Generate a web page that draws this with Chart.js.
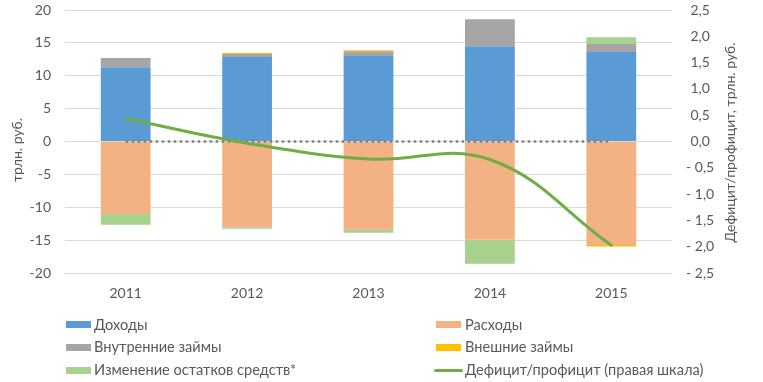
<!DOCTYPE html>
<html>
<head>
<meta charset="utf-8">
<script src="https://cdn.jsdelivr.net/npm/chart.js@4/dist/chart.umd.min.js"></script>
<style>
  html, body { margin: 0; padding: 0; background: #fff; }
  #wrap { position: relative; width: 763px; height: 382px; overflow: hidden; font-family: Lato, "Noto Sans", sans-serif; }
  #c { position: absolute; left: 0; top: 0; }
  .lg { position: absolute; font-size: 14.6px; color: #595959; white-space: nowrap; line-height: 16px; }
  .sw { position: absolute; }
</style>
</head>
<body>
<div id="wrap">
  <canvas id="c" width="763" height="382"></canvas>
  <div id="legend"></div>
</div>
<script>
// ---- data ----
const categories = ['2011', '2012', '2013', '2014', '2015'];
const revenues      = [11.3, 12.85, 13.0, 14.5, 13.6];     // Доходы
const expenditures  = [-11.0, -13.0, -13.4, -14.9, -15.7]; // Расходы
const domesticLoans = [1.4, 0.45, 0.75, 4.1, 1.25];        // Внутренние займы
const externalLoans = [0, 0.15, 0.15, 0, -0.25];            // Внешние займы
const balanceChange = [-1.65, -0.25, -0.45, -3.65, 1.0];   // Изменение остатков средств*
const deficit       = [0.44, -0.03, -0.33, -0.34, -1.97];  // Дефицит/профицит
const zeroLine      = [0, 0, 0, 0, 0];
const leftTicks  = [-20, -15, -10, -5, 0, 5, 10, 15, 20];
const rightTicks = [-2.5, -2.0, -1.5, -1.0, -0.5, 0, 0.5, 1.0, 1.5, 2.0, 2.5];
const names = ['Доходы', 'Расходы', 'Внутренние займы', 'Внешние займы', 'Изменение остатков средств*', 'Дефицит/профицит (правая шкала)'];
const leftTitle = 'трлн. руб.';
const rightTitle = 'Дефицит/профицит, трлн. руб.';

const COLORS = ['#5B9BD5', '#F4B183', '#A5A5A5', '#FFC000', '#A9D18E', '#70AD47'];
const TXT = '#595959';
const FONT = 'Lato, "Noto Sans", sans-serif';

function bar(i, data) {
  return { type: 'bar', label: names[i], data: data, backgroundColor: COLORS[i],
           yAxisID: 'y', stack: 's', order: 2, barPercentage: 0.41, categoryPercentage: 1.0 };
}

const titlesPlugin = {
  id: 'titles',
  afterDraw(chart) {
    const ctx = chart.ctx;
    ctx.save();
    ctx.fillStyle = TXT;
    ctx.font = '14px ' + FONT;
    ctx.textAlign = 'center';
    ctx.textBaseline = 'middle';
    ctx.translate(17, 150); ctx.rotate(-Math.PI / 2);
    ctx.fillText(leftTitle, 0, 0);
    ctx.restore();
    ctx.save();
    ctx.fillStyle = TXT;
    ctx.font = '14px ' + FONT;
    ctx.textAlign = 'center';
    ctx.textBaseline = 'middle';
    ctx.translate(730.5, 142.5); ctx.rotate(-Math.PI / 2);
    ctx.fillText(rightTitle, 0, 0);
    ctx.restore();
  }
};

function fmtRight(v) {
  const a = Math.abs(v).toFixed(1).replace('.', ',');
  return v < -1e-9 ? '- ' + a : a;
}

new Chart(document.getElementById('c'), {
  data: {
    labels: categories,
    datasets: [
      bar(0, revenues), bar(1, expenditures), bar(2, domesticLoans), bar(3, externalLoans), bar(4, balanceChange),
      { type: 'line', label: names[5], data: deficit, yAxisID: 'y1', borderColor: COLORS[5], borderWidth: 3,
        pointRadius: 0, tension: 0.4, fill: false, order: 0, borderCapStyle: 'round' },
      { type: 'line', label: 'zero', data: zeroLine, yAxisID: 'y1', borderColor: '#7F7F7F', borderWidth: 2.5,
        borderDash: [2.5, 3.5], pointRadius: 0, fill: false, order: 1 }
    ]
  },
  options: {
    responsive: false,
    animation: false,
    devicePixelRatio: 1,
    layout: { padding: { left: 0, right: 0, top: 10, bottom: 68 } },
    plugins: { legend: { display: false }, tooltip: { enabled: false } },
    scales: {
      x: {
        stacked: true,
        grid: { display: false, drawTicks: false },
        border: { display: false },
        afterFit(scale) { scale.paddingLeft = 0; scale.paddingRight = 0; },
        ticks: { color: TXT, font: { family: FONT, size: 14 }, padding: 12 }
      },
      y: {
        position: 'left', stacked: true, min: -20, max: 20,
        afterBuildTicks(scale) { scale.ticks = leftTicks.map(v => ({ value: v })); },
        afterFit(scale) { scale.width = 65; scale.paddingTop = 0; scale.paddingBottom = 0; },
        grid: { color: '#D9D9D9', lineWidth: 1, drawTicks: false },
        border: { display: false },
        ticks: { color: TXT, font: { family: FONT, size: 14 }, padding: 14, callback: v => String(v) }
      },
      y1: {
        position: 'right', min: -2.5, max: 2.5,
        afterBuildTicks(scale) { scale.ticks = rightTicks.map(v => ({ value: v })); },
        afterFit(scale) { scale.width = 91; scale.paddingTop = 0; scale.paddingBottom = 0; },
        grid: { display: false, drawTicks: false },
        border: { display: false },
        ticks: { color: TXT, font: { family: FONT, size: 14 }, padding: 14, crossAlign: 'center', callback: v => fmtRight(v) }
      }
    }
  },
  plugins: [titlesPlugin]
});

// ---- HTML legend (two columns) ----
const lg = document.getElementById('legend');
const rows = [324.5, 347, 370];
const items = [
  { i: 0, col: 0, row: 0 }, { i: 1, col: 1, row: 0 },
  { i: 2, col: 0, row: 1 }, { i: 3, col: 1, row: 1 },
  { i: 4, col: 0, row: 2 }, { i: 5, col: 1, row: 2 }
];
const colBox = [66, 436], colText = [94, 465];
items.forEach(it => {
  const cy = rows[it.row];
  const sw = document.createElement('div');
  sw.className = 'sw';
  if (it.i === 5) {
    sw.style.cssText = `left:${colBox[it.col] - 2}px;top:${cy - 1.5}px;width:29px;height:3px;background:${COLORS[5]};border-radius:1.5px;`;
  } else {
    sw.style.cssText = `left:${colBox[it.col]}px;top:${cy - 3.5}px;width:25px;height:7px;background:${COLORS[it.i]};`;
  }
  lg.appendChild(sw);
  const t = document.createElement('div');
  t.className = 'lg';
  t.textContent = names[it.i];
  t.style.left = colText[it.col] + 'px';
  t.style.top = (cy - 8) + 'px';
  lg.appendChild(t);
});
</script>
</body>
</html>
